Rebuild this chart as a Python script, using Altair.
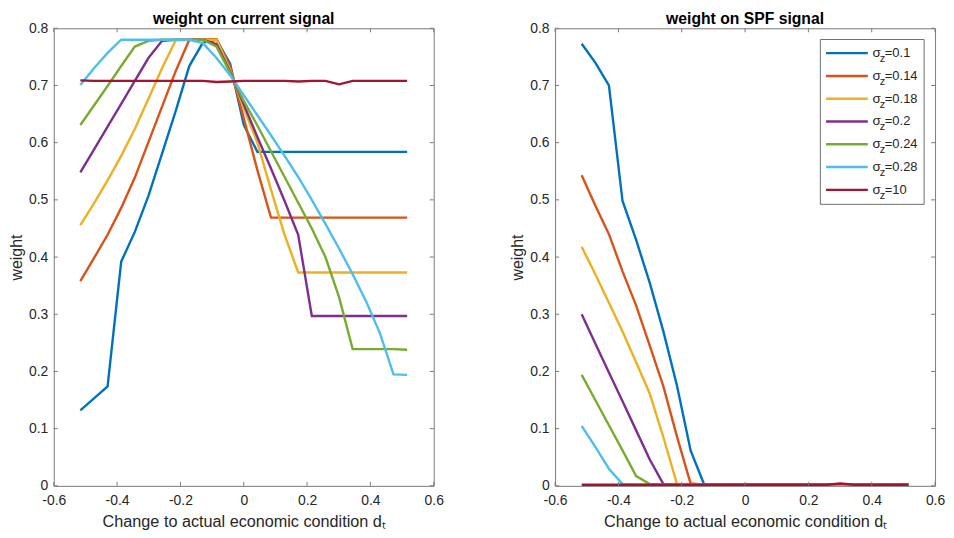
import altair as alt
import pandas as pd

# ---------------- data ----------------
x_vals = [-0.516, -0.473, -0.430, -0.387, -0.344, -0.301, -0.258, -0.215, -0.172,
          -0.129, -0.086, -0.043, 0.0, 0.043, 0.086, 0.129, 0.172, 0.215, 0.258,
          0.301, 0.344, 0.387, 0.430, 0.473, 0.516]

sigma_labels = ["0.1", "0.14", "0.18", "0.2", "0.24", "0.28", "10"]
colors = ["#0072BD", "#D95319", "#EDB120", "#7E2F8E", "#77AC30", "#4DBEEE", "#A2142F"]

# weight on current signal
cur_010 = [0.132, 0.153, 0.174, 0.392, 0.444, 0.507, 0.581, 0.655, 0.734, 0.775, 0.780, 0.738, 0.631,
           0.584, 0.584, 0.584, 0.584, 0.584, 0.584, 0.584, 0.584, 0.584, 0.584, 0.584, 0.584]
cur_014 = [0.358, 0.398, 0.439, 0.486, 0.539, 0.601, 0.663, 0.725, 0.780, 0.781, 0.781, 0.733, 0.643,
           0.552, 0.469, 0.469, 0.469, 0.469, 0.469, 0.469, 0.469, 0.469, 0.469, 0.469, 0.469]
cur_018 = [0.456, 0.494, 0.534, 0.577, 0.624, 0.677, 0.730, 0.779, 0.780, 0.780, 0.780, 0.727, 0.660,
           0.600, 0.518, 0.439, 0.373, 0.373, 0.373, 0.373, 0.373, 0.373, 0.373, 0.373, 0.373]
cur_020 = [0.548, 0.588, 0.628, 0.668, 0.708, 0.748, 0.778, 0.780, 0.780, 0.780, 0.772, 0.724, 0.667,
           0.610, 0.555, 0.498, 0.439, 0.297, 0.297, 0.297, 0.297, 0.297, 0.297, 0.297, 0.297]
cur_024 = [0.631, 0.665, 0.699, 0.734, 0.768, 0.778, 0.780, 0.780, 0.780, 0.780, 0.768, 0.722, 0.673,
           0.630, 0.585, 0.540, 0.495, 0.450, 0.400, 0.330, 0.239, 0.239, 0.239, 0.239, 0.238]
cur_028 = [0.701, 0.730, 0.757, 0.780, 0.780, 0.780, 0.780, 0.780, 0.780, 0.774, 0.748, 0.718, 0.683,
           0.648, 0.613, 0.577, 0.540, 0.500, 0.458, 0.415, 0.370, 0.322, 0.267, 0.195, 0.194]
cur_10 = [0.709, 0.708, 0.708, 0.708, 0.708, 0.708, 0.708, 0.708, 0.708, 0.708, 0.706, 0.707, 0.708,
          0.708, 0.708, 0.708, 0.707, 0.708, 0.708, 0.702, 0.708, 0.708, 0.708, 0.708, 0.708]

# weight on SPF signal
spf_010 = [0.773, 0.740, 0.700, 0.498, 0.430, 0.355, 0.270, 0.175, 0.062, 0.002, 0.002, 0.002, 0.002,
           0.002, 0.002, 0.002, 0.002, 0.002, 0.002, 0.002, 0.002, 0.002, 0.002, 0.002, 0.002]
spf_014 = [0.543, 0.490, 0.440, 0.375, 0.315, 0.245, 0.174, 0.086, 0.004, 0.002, 0.002, 0.002, 0.002,
           0.002, 0.002, 0.002, 0.002, 0.002, 0.002, 0.002, 0.002, 0.002, 0.002, 0.002, 0.002]
spf_018 = [0.418, 0.370, 0.320, 0.270, 0.216, 0.161, 0.085, 0.003, 0.002, 0.002, 0.002, 0.002, 0.002,
           0.002, 0.002, 0.002, 0.002, 0.002, 0.002, 0.002, 0.002, 0.002, 0.002, 0.002, 0.002]
spf_020 = [0.300, 0.249, 0.198, 0.148, 0.097, 0.046, 0.003, 0.002, 0.002, 0.002, 0.002, 0.002, 0.002,
           0.002, 0.002, 0.002, 0.002, 0.002, 0.002, 0.002, 0.002, 0.002, 0.002, 0.002, 0.002]
spf_024 = [0.194, 0.150, 0.106, 0.062, 0.017, 0.003, 0.002, 0.002, 0.002, 0.002, 0.002, 0.002, 0.002,
           0.002, 0.002, 0.002, 0.002, 0.002, 0.002, 0.002, 0.002, 0.002, 0.002, 0.002, 0.002]
spf_028 = [0.105, 0.068, 0.030, 0.003, 0.002, 0.002, 0.002, 0.002, 0.002, 0.002, 0.002, 0.002, 0.002,
           0.002, 0.002, 0.002, 0.002, 0.002, 0.002, 0.002, 0.002, 0.002, 0.002, 0.002, 0.002]
spf_10 = [0.002, 0.002, 0.002, 0.002, 0.002, 0.002, 0.002, 0.002, 0.002, 0.002, 0.002, 0.002, 0.002,
          0.002, 0.002, 0.002, 0.002, 0.002, 0.002, 0.004, 0.002, 0.002, 0.002, 0.002, 0.002]

x_ticks = [-0.6, -0.4, -0.2, 0, 0.2, 0.4, 0.6]
y_ticks = [0, 0.1, 0.2, 0.3, 0.4, 0.5, 0.6, 0.7, 0.8]

left_title = "weight on current signal"
right_title = "weight on SPF signal"
x_title = "Change to actual economic condition dₜ"
y_title = "weight"

# ---------------- style ----------------
FONT = "Liberation Sans"
AX = "#7a7a7a"
TXT = "#262626"
W, H = 382, 460
TL = 4

X_AXIS = alt.Axis(
    values=x_ticks, labelExpr="'' + datum.value", domain=False, ticks=False,
    tickSize=0, grid=False, labelFlush=False, labelFont=FONT, labelFontSize=14,
    labelColor=TXT, labelPadding=8, title=x_title, titleFont=FONT,
    titleFontSize=16.3, titleFontWeight="normal", titleColor=TXT, titlePadding=6)
Y_AXIS = alt.Axis(
    values=y_ticks, labelExpr="'' + datum.value", domain=False, ticks=False,
    tickSize=0, grid=False, labelFlush=False, labelFont=FONT, labelFontSize=14,
    labelColor=TXT, labelPadding=6, title=y_title, titleFont=FONT,
    titleFontSize=16, titleFontWeight="normal", titleColor=TXT, titlePadding=4)


def long_df(series):
    rows = []
    for lab, ys in zip(sigma_labels, series):
        for xv, yv in zip(x_vals, ys):
            rows.append({"d": xv, "w": yv, "s": lab})
    return pd.DataFrame(rows)


def panel(series, title, with_legend=False):
    df = long_df(series)
    xs = alt.Scale(domain=[-0.6, 0.6], nice=False, zero=False)
    ys = alt.Scale(domain=[0, 0.8], nice=False, zero=False)
    cs = alt.Scale(domain=sigma_labels, range=colors)

    lines = alt.Chart(df).mark_line(strokeWidth=2.4).encode(
        x=alt.X("d:Q", scale=xs, axis=X_AXIS),
        y=alt.Y("w:Q", scale=ys, axis=Y_AXIS),
        color=alt.Color("s:N", scale=cs, legend=None),
    )

    xt = pd.DataFrame({"d": x_ticks})
    yt = pd.DataFrame({"w": y_ticks})
    tick_bottom = alt.Chart(xt).mark_rule(color=AX, strokeWidth=1).encode(
        x=alt.X("d:Q", scale=xs, axis=X_AXIS), y=alt.value(H), y2=alt.value(H - TL))
    tick_top = alt.Chart(xt).mark_rule(color=AX, strokeWidth=1).encode(
        x=alt.X("d:Q", scale=xs, axis=X_AXIS), y=alt.value(0), y2=alt.value(TL))
    tick_left = alt.Chart(yt).mark_rule(color=AX, strokeWidth=1).encode(
        y=alt.Y("w:Q", scale=ys, axis=Y_AXIS), x=alt.value(0), x2=alt.value(TL))
    tick_right = alt.Chart(yt).mark_rule(color=AX, strokeWidth=1).encode(
        y=alt.Y("w:Q", scale=ys, axis=Y_AXIS), x=alt.value(W), x2=alt.value(W - TL))

    layers = [lines, tick_bottom, tick_top, tick_left, tick_right]

    if with_legend:
        box = alt.Chart(pd.DataFrame({"a": [0]})).mark_rect(
            fill="white", stroke="#6e6e6e", strokeWidth=1).encode(
            x=alt.value(266.7), x2=alt.value(371), y=alt.value(11.3), y2=alt.value(177))
        layers.append(box)
        for i, (lab, col) in enumerate(zip(sigma_labels, colors)):
            ypos = 25 + i * 22.9
            one = pd.DataFrame({"s": [lab], "txt": ["=" + lab]})
            base = alt.Chart(one)
            layers.append(base.mark_rule(strokeWidth=2.4, color=col).encode(
                x=alt.value(272.4), x2=alt.value(314.4), y=alt.value(ypos)))
            layers.append(base.mark_text(text="σ", align="left", baseline="middle",
                                         font=FONT, fontSize=13.5, color=TXT).encode(
                x=alt.value(319), y=alt.value(ypos)))
            layers.append(base.mark_text(text="z", align="left", baseline="middle",
                                         font=FONT, fontSize=11, color=TXT).encode(
                x=alt.value(326.5), y=alt.value(ypos + 6)))
            layers.append(base.mark_text(align="left", baseline="middle",
                                         font=FONT, fontSize=13, color=TXT).encode(
                x=alt.value(331.5), y=alt.value(ypos), text="txt:N"))

    ch = alt.layer(*layers).properties(
        width=W, height=H,
        title=alt.TitleParams(title, font=FONT, fontSize=15.8, fontWeight="bold",
                              color="black", offset=-6))
    return ch


left = panel([cur_010, cur_014, cur_018, cur_020, cur_024, cur_028, cur_10], left_title)
right = panel([spf_010, spf_014, spf_018, spf_020, spf_024, spf_028, spf_10], right_title,
              with_legend=True)

chart = alt.hconcat(left, right, spacing=122, bounds="flush").properties(
    padding={"left": 0, "top": 0, "right": 0, "bottom": 0},
    background="white",
).configure_view(stroke=AX, strokeWidth=1)

chart.save("out.html", embed_options={"renderer": "svg", "actions": False})
